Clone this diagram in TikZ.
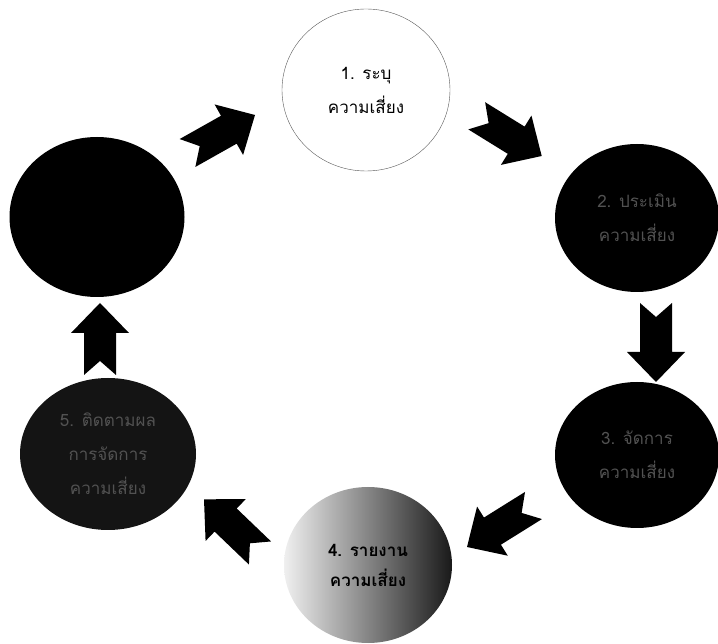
\documentclass[tikz,border=0pt]{standalone}
\usepackage{fontspec}
\newfontfamily\thaifont[Script=Thai]{Loma}
\usetikzlibrary{shapes.geometric,calc}

% notched block arrow from tail #1 to tip #2
\newcommand\blockarrow[2]{%
  \fill ($(#1)!16pt!90:(#2)$)
    -- ($(#2)!30pt!(#1)!16pt!-90:(#1)$)
    -- ($(#2)!30pt!(#1)!29pt!-90:(#1)$)
    -- (#2)
    -- ($(#2)!30pt!(#1)!29pt!90:(#1)$)
    -- ($(#2)!30pt!(#1)!16pt!90:(#1)$)
    -- ($(#1)!16pt!-90:(#2)$)
    -- ($(#1)!14pt!(#2)$) -- cycle;}

\begin{document}
\begin{tikzpicture}[x=1pt,y=1pt,
  risk/.style = {ellipse, inner sep=0pt, align=center,
    font=\thaifont\fontsize{17}{34}\selectfont},
  dark/.style = {risk, fill=black, text=black!68}]

\useasboundingbox (0,0) rectangle (718,643);

\node[risk, minimum width=168pt, minimum height=162pt, fill=white, draw=black!65] (c1) at (366,553) {1. ระบุ\\ความเสี่ยง};
\node[dark, minimum width=164pt, minimum height=148pt] (c2) at (637,425) {2. ประเมิน\\ความเสี่ยง};
\node[dark, minimum width=164pt, minimum height=146pt] (c3) at (637,188) {3. จัดการ\\ความเสี่ยง};
\node[risk, minimum width=168pt, minimum height=156pt, left color=black!6, right color=black!90, font=\thaifont\bfseries\fontsize{17}{30}\selectfont] (c4) at (368,78) {4. รายงาน\\ความเสี่ยง};
\node[dark, minimum width=176pt, minimum height=152pt, fill=black!92] (c5) at (108,189) {5. ติดตามผล\\การจัดการ\\ความเสี่ยง};
\node[risk, minimum width=175pt, minimum height=160pt, fill=black] (c6) at (97,426) {};

\coordinate (t1) at (187.5,490);
\coordinate (h1) at (255,528);
\coordinate (t2) at (476.7,527.2);
\coordinate (h2) at (541.7,487);
\coordinate (t3) at (656,340);
\coordinate (h3) at (656,261);
\coordinate (t4) at (533.5,137.5);
\coordinate (h4) at (467,96);
\coordinate (t5) at (260,90);
\coordinate (h5) at (204,143.7);
\coordinate (t6) at (100,268);
\coordinate (h6) at (100,340);

\blockarrow{t1}{h1}
\blockarrow{t2}{h2}
\blockarrow{t3}{h3}
\blockarrow{t4}{h4}
\blockarrow{t5}{h5}
\blockarrow{t6}{h6}

\end{tikzpicture}
\end{document}
